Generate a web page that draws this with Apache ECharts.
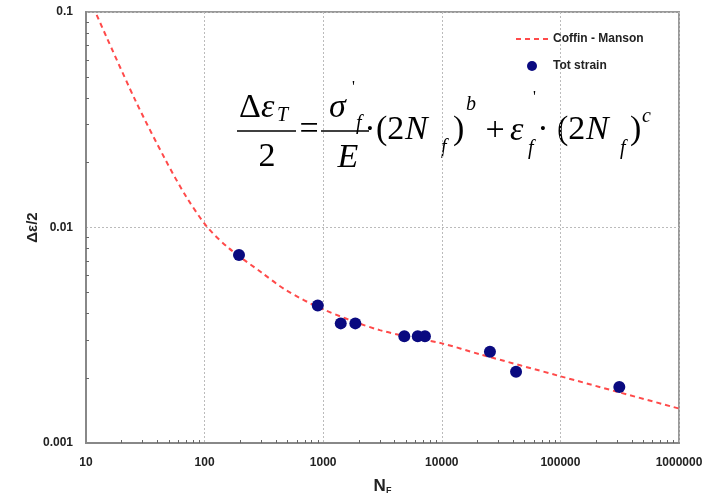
<!DOCTYPE html>
<html>
<head>
<meta charset="utf-8">
<script src="https://cdn.jsdelivr.net/npm/echarts@6/dist/echarts.min.js"></script>
<style>html,body{margin:0;padding:0;background:#fff}#c{width:710px;height:498px}</style>
</head>
<body>
<div id="c"></div>
<script>
// ---- data ----
const xTickValues = [10, 100, 1000, 10000, 100000, 1000000];
const yTickValues = [0.001, 0.01, 0.1];
const xMinorTicks = [20,30,40,50,60,70,80,90,200,300,400,500,600,700,800,900,2000,3000,4000,5000,6000,7000,8000,9000,20000,30000,40000,50000,60000,70000,80000,90000,200000,300000,400000,500000,600000,700000,800000,900000];
const yMinorTicks = [0.002,0.003,0.004,0.005,0.006,0.007,0.008,0.009,0.02,0.03,0.04,0.05,0.06,0.07,0.08,0.09];
const cmCycles = [12.3, 26, 47, 70, 106, 161, 300, 486, 1000, 3000, 10000, 21000, 100000, 300000, 1000000];
const cmStrain = [0.097, 0.039, 0.0205, 0.0139, 0.0100, 0.0080, 0.0062, 0.00512, 0.00417, 0.00334, 0.00290, 0.00258, 0.00204, 0.00173, 0.001445];
const testCycles = [195, 900, 1406, 1866, 4830, 6270, 7210, 25470, 42270, 314000];
const testStrain = [0.00745, 0.00435, 0.00359, 0.00359, 0.00313, 0.00313, 0.00313, 0.00265, 0.00214, 0.00182];
const seriesNames = ['Coffin - Manson', 'Tot strain'];

const chart = echarts.init(document.getElementById('c'), null, {renderer: 'canvas'});
const lblFont = {fontFamily: 'Liberation Sans, Arial, sans-serif', fontWeight: 'bold', fontSize: 12, color: '#222'};
const serif = 'Liberation Serif, Times New Roman, serif';

function T(text, x, y, size, italic, align) {
  return {
    type: 'text', x: x, y: y, silent: true,
    style: {text: text, font: (italic ? 'italic ' : '') + size + 'px ' + serif, fill: '#000',
      align: align || 'left', verticalAlign: 'middle'}
  };
}
function L(x1, x2, y) {
  return {type: 'line', silent: true, shape: {x1: x1, y1: y, x2: x2, y2: y}, style: {stroke: '#000', lineWidth: 1.5}};
}
const M = 34, S = 20;
const formula = [
  T('Δ', 239, 108, M, false),
  T('ε', 261, 108, M, true),
  T('T', 277, 116, S, true),
  L(237, 296, 131),
  T('2', 267, 157, M, false, 'center'),
  T('=', 309, 130, M, false, 'center'),
  T('σ', 329, 108, M, true),
  T('\'', 352, 88, 16, false),
  T('f', 356, 124, S, true),
  L(321, 369, 131),
  T('E', 348, 158, M, true, 'center'),
  T('·', 370, 130, M, false, 'center'),
  T('(2', 376, 130, M, false),
  T('N', 405, 130, M, true),
  T('f', 441, 148, S, true),
  T(')', 453, 130, M, false),
  T('b', 466, 105, S, true),
  T('+', 495, 131, M, false, 'center'),
  T('ε', 510, 131, M, true),
  T('\'', 533, 98, 16, false),
  T('f', 528, 149, S, true),
  T('·', 543, 130, M, false, 'center'),
  T('(2', 557, 130, M, false),
  T('N', 586, 130, M, true),
  T('f', 620, 149, S, true),
  T(')', 630, 130, M, false),
  T('c', 642, 117, S, true)
];

const option = {
  backgroundColor: '#fff',
  animation: false,
  grid: {left: 86, right: 31, top: 12, bottom: 55, show: true, borderColor: '#999', borderWidth: 2,
    containLabel: false, outerBoundsMode: 'none'},
  legend: {
    data: [{name: seriesNames[0], itemStyle: {opacity: 0}}, {name: seriesNames[1]}],
    orient: 'vertical', left: 515, top: 33, padding: 0,
    itemWidth: 32, itemHeight: 10, itemGap: 15,
    textStyle: {fontFamily: 'Liberation Sans, Arial, sans-serif', fontWeight: 'bold', fontSize: 12, color: '#222'}
  },
  xAxis: [{
    type: 'log', logBase: 10, min: xTickValues[0], max: xTickValues[xTickValues.length - 1],
    name: '{n|N}{s|F}', nameLocation: 'middle', nameGap: 34, nameMoveOverlap: false,
    nameTextStyle: {rich: {
      n: {fontFamily: 'Liberation Sans, Arial', fontWeight: 'bold', fontSize: 17, color: '#222'},
      s: {fontFamily: 'Liberation Sans, Arial', fontWeight: 'bold', fontSize: 9, color: '#222', verticalAlign: 'bottom', padding: [9, 0, 0, 0]}
    }},
    axisLine: {lineStyle: {color: '#888', width: 2}},
    axisTick: {show: false},
    axisLabel: Object.assign({margin: 14, formatter: v => String(Math.round(v))}, lblFont),
    splitLine: {show: true, lineStyle: {color: '#bbb', width: 1, type: [2, 2]}}
  }, {
    type: 'log', logBase: 10, min: xTickValues[0], max: xTickValues[xTickValues.length - 1],
    position: 'bottom', gridIndex: 0,
    axisLine: {show: false}, axisLabel: {show: false}, splitLine: {show: false},
    axisTick: {show: true, inside: true, length: 3, customValues: xMinorTicks, lineStyle: {color: '#666', width: 1}}
  }],
  yAxis: [{
    type: 'log', logBase: 10, min: yTickValues[0], max: yTickValues[yTickValues.length - 1],
    name: 'Δε/2', nameLocation: 'middle', nameGap: 46, nameRotate: 90, nameMoveOverlap: false,
    nameTextStyle: {fontFamily: 'Liberation Sans, Arial', fontWeight: 'bold', fontSize: 15, color: '#222'},
    axisLine: {lineStyle: {color: '#888', width: 2}},
    axisTick: {show: false},
    axisLabel: Object.assign({margin: 13, formatter: v => String(Number(v.toPrecision(1)))}, lblFont),
    splitLine: {show: true, lineStyle: {color: '#bbb', width: 1, type: [2, 2]}}
  }, {
    type: 'log', logBase: 10, min: yTickValues[0], max: yTickValues[yTickValues.length - 1],
    position: 'left', gridIndex: 0,
    axisLine: {show: false}, axisLabel: {show: false}, splitLine: {show: false},
    axisTick: {show: true, inside: true, length: 3, customValues: yMinorTicks, lineStyle: {color: '#666', width: 1}}
  }],
  series: [{
    name: seriesNames[0], type: 'line', xAxisIndex: 0, yAxisIndex: 0,
    data: cmCycles.map((n, i) => [n, cmStrain[i]]),
    symbol: 'none', smooth: 0.3,
    lineStyle: {color: '#ff4a4a', width: 2, type: [5, 4]},
    itemStyle: {color: '#ff4a4a'}, z: 2
  }, {
    name: seriesNames[1], type: 'scatter', xAxisIndex: 0, yAxisIndex: 0,
    data: testCycles.map((n, i) => [n, testStrain[i]]),
    symbol: 'circle', symbolSize: 12,
    itemStyle: {color: '#0a0a80', opacity: 1}, z: 3
  }],
  graphic: formula
};
chart.setOption(option);
</script>
</body>
</html>
